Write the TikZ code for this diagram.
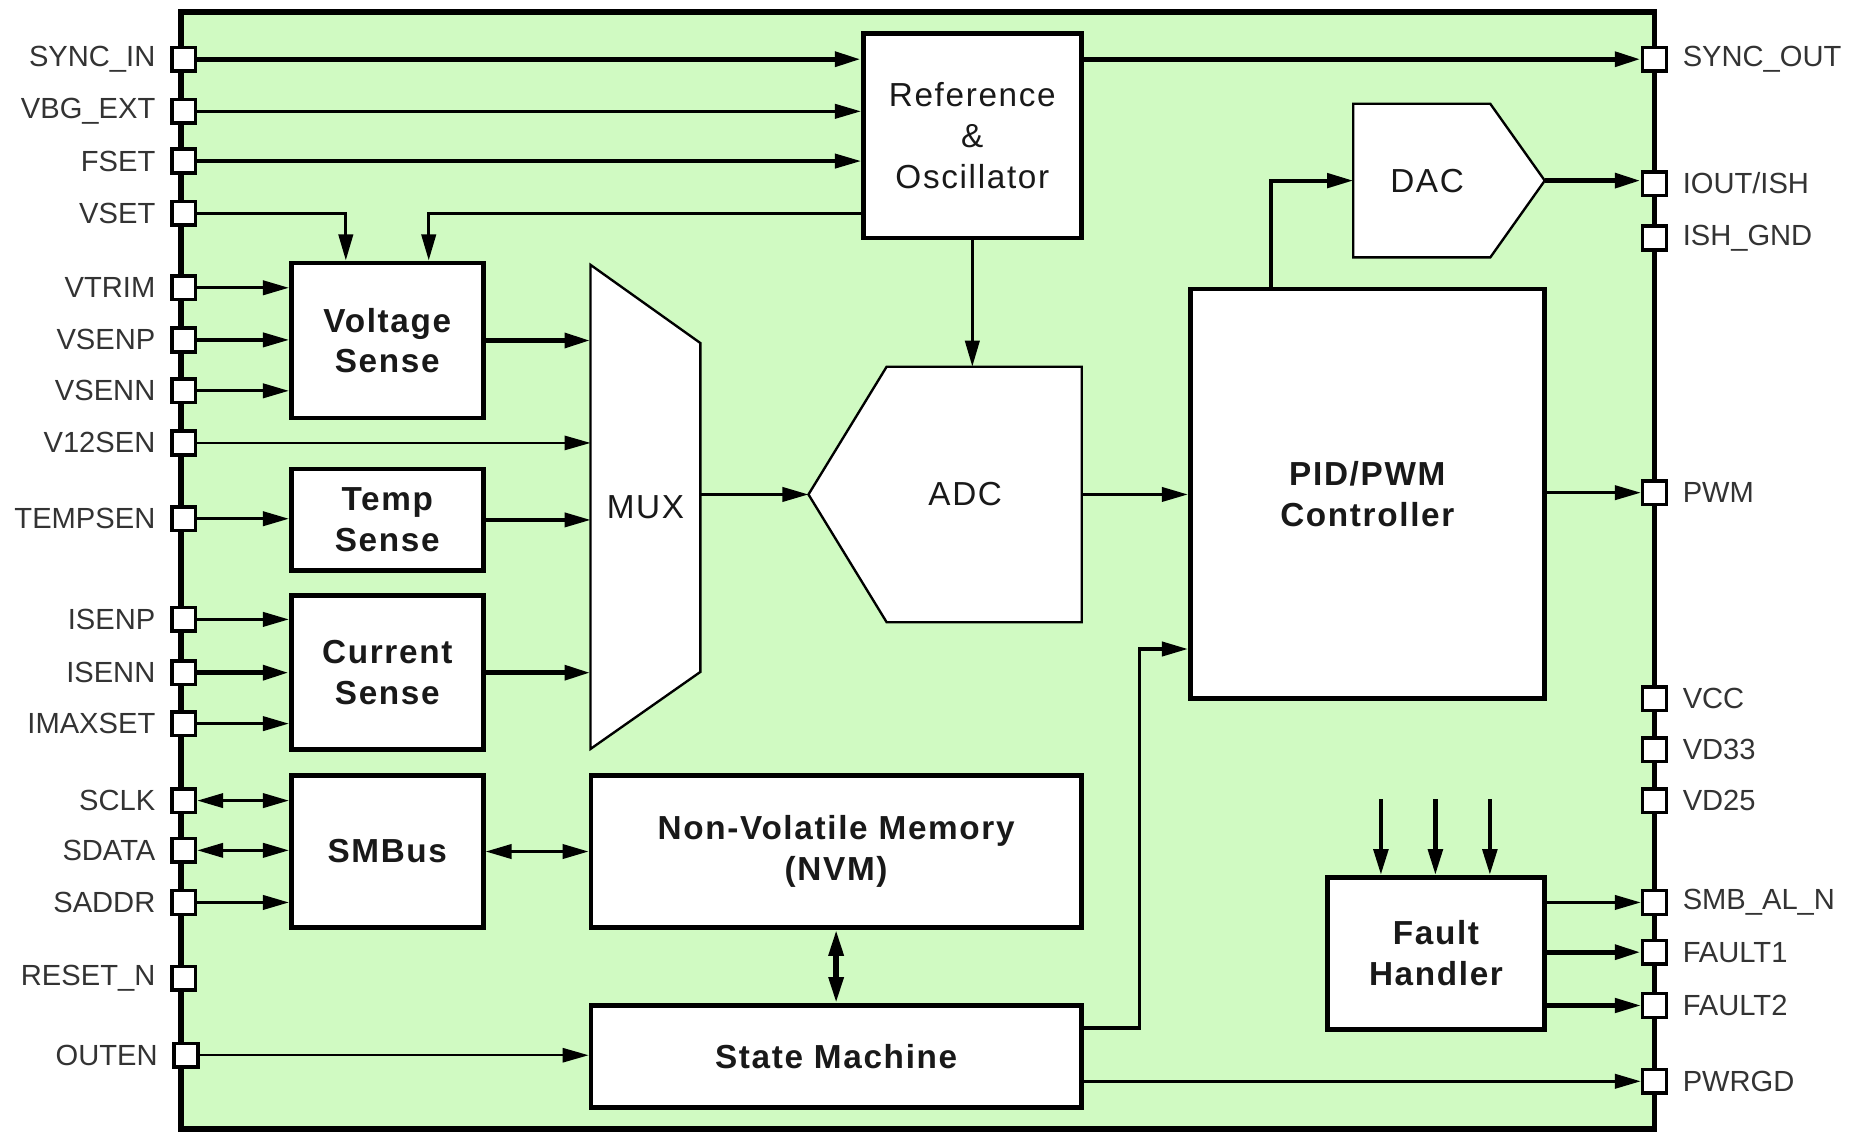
\documentclass[tikz,border=0pt]{standalone}
\usepackage{fontspec}
\setmainfont{Liberation Sans}
\newfontfamily\blockfont{Liberation Sans}[LetterSpace=5]
\usetikzlibrary{arrows.meta,positioning,calc}
\pgfdeclarelayer{edgelayer}
\pgfsetlayers{edgelayer,main}
\definecolor{chipgreen}{RGB}{208,250,194}
\tikzset{>={Triangle[length=4.4mm,width=2.4mm]},label distance=1.8mm}
\tikzstyle{padbox}=[draw,fill=white,line width=0.6mm,minimum size=4mm,inner sep=0pt]
\tikzstyle{lbl}=[font=\fontsize{14}{16}\selectfont,text=black!80,inner sep=0.6mm]
\tikzstyle{blk}=[draw,fill=white,line width=0.8mm,inner sep=0pt,align=center,text=black!90,font=\blockfont\bfseries\fontsize{16}{19.5}\selectfont]
\tikzstyle{plainblk}=[inner sep=0pt,align=center,text=black!90,font=\blockfont\fontsize{16}{19.5}\selectfont]
\tikzstyle{outline}=[draw,fill=white,line width=0.4mm]
\tikzstyle{wire}=[line width=0.55mm]
\tikzstyle{lightwire}=[line width=0.4mm]
\tikzstyle{heavywire}=[line width=0.9mm]

\begin{document}
\begin{tikzpicture}[x=0.2mm,y=-0.2mm,every edge/.append style={wire}]
\useasboundingbox (0,0) rectangle (1568,958);
\begin{pgfonlayer}{edgelayer}
\draw[line width=1mm,fill=chipgreen] (153,10) rectangle (1397,953);
\end{pgfonlayer}

% left side pins
\node[padbox,label={[lbl]left:SYNC\_IN}] (syncin) at (155,50) {};
\node[padbox,label={[lbl]left:VBG\_EXT}] (vbgext) at (155,94) {};
\node[padbox,label={[lbl]left:FSET}] (fset) at (155,136) {};
\node[padbox,label={[lbl]left:VSET}] (vset) at (155,180) {};
\node[padbox,label={[lbl]left:VTRIM}] (vtrim) at (155,243) {};
\node[padbox,label={[lbl]left:VSENP}] (vsenp) at (155,287) {};
\node[padbox,label={[lbl]left:VSENN}] (vsenn) at (155,330) {};
\node[padbox,label={[lbl]left:V12SEN}] (vtwelve) at (155,374) {};
\node[padbox,label={[lbl]left:TEMPSEN}] (tempsen) at (155,438) {};
\node[padbox,label={[lbl]left:ISENP}] (isenp) at (155,523) {};
\node[padbox,label={[lbl]left:ISENN}] (isenn) at (155,568) {};
\node[padbox,label={[lbl]left:IMAXSET}] (imaxset) at (155,611) {};
\node[padbox,label={[lbl]left:SCLK}] (sclk) at (155,676) {};
\node[padbox,label={[lbl]left:SDATA}] (sdata) at (155,718) {};
\node[padbox,label={[lbl]left:SADDR}] (saddr) at (155,762) {};
\node[padbox,label={[lbl]left:RESET\_N}] (resetn) at (155,826) {};
\node[padbox,label={[lbl]left:OUTEN}] (outen) at (157,891) {};

% right side pins
\node[padbox,label={[lbl]right:SYNC\_OUT}] (syncout) at (1397,50) {};
\node[padbox,label={[lbl]right:IOUT/ISH}] (ioutish) at (1397,155) {};
\node[padbox,label={[lbl]right:ISH\_GND}] (ishgnd) at (1397,201) {};
\node[padbox,label={[lbl]right:PWM}] (pwm) at (1397,416) {};
\node[padbox,label={[lbl]right:VCC}] (vcc) at (1397,590) {};
\node[padbox,label={[lbl]right:VD33}] (vdtt) at (1397,633) {};
\node[padbox,label={[lbl]right:VD25}] (vdtf) at (1397,676) {};
\node[padbox,label={[lbl]right:SMB\_AL\_N}] (smbal) at (1397,762) {};
\node[padbox,label={[lbl]right:FAULT1}] (faultone) at (1397,804) {};
\node[padbox,label={[lbl]right:FAULT2}] (faulttwo) at (1397,849) {};
\node[padbox,label={[lbl]right:PWRGD}] (pwrgd) at (1397,913) {};

% blocks
\node[blk,font=\blockfont\fontsize{16}{19.5}\selectfont,minimum width=36.8mm,minimum height=34.6mm] (ref) at (821,114.5) {Reference\\\&\\Oscillator};
\node[blk,minimum width=32.4mm,minimum height=26.2mm] (vsense) at (327,287.5) {Voltage\\Sense};
\node[blk,minimum width=32.4mm,minimum height=17.2mm] (tsense) at (327,439) {Temp\\Sense};
\node[blk,minimum width=32.4mm,minimum height=26mm] (isense) at (327,568) {Current\\Sense};
\node[blk,minimum width=32.4mm,minimum height=25.6mm] (smbus) at (327,719) {SMBus};
\node[blk,minimum width=82.8mm,minimum height=25.6mm] (nvm) at (706,719) {Non-Volatile Memory\\(NVM)};
\node[blk,minimum width=82.8mm,minimum height=17.2mm] (sm) at (706,892) {State Machine};
\node[blk,minimum width=59.8mm,minimum height=69.2mm] (pid) at (1154.5,417) {PID/PWM\\Controller};
\node[blk,minimum width=36.6mm,minimum height=25.6mm] (fault) at (1212.5,805) {Fault\\Handler};
\node[plainblk,minimum width=18.4mm,minimum height=81.6mm] (mux) at (545,428) {MUX};
\node[plainblk,minimum width=46mm,minimum height=43mm] (adc) at (798,417.5) {\hspace*{6.8mm}ADC};
\node[plainblk,minimum width=32.2mm,minimum height=25.8mm] (dac) at (1223.5,152.5) {DAC\hspace*{7.4mm}};

\begin{pgfonlayer}{edgelayer}
\path[outline] (mux.north west) -- ($(mux.north east)+(0,66)$) -- ($(mux.south east)+(0,-65)$) -- (mux.south west) -- cycle;
\path[outline] (adc.west) -- ($(adc.north west)+(66,0)$) -- (adc.north east) -- (adc.south east) -- ($(adc.south west)+(66,0)$) -- cycle;
\path[outline] (dac.north west) -- ($(dac.north east)+(-46,0)$) -- (dac.east) -- ($(dac.south east)+(-46,0)$) -- (dac.south west) -- cycle;
\end{pgfonlayer}

\coordinate (fina) at (1166,675);
\coordinate (finb) at (1212,675);
\coordinate (finc) at (1258,675);
\coordinate (pidin) at ($(pid.south west)+(0,-44)$);

% connectors
\path[->]
(syncin) edge[heavywire] (syncin -| ref.west)
(vbgext) edge (vbgext -| ref.west)
(fset) edge (fset -| ref.west)
(ref.east |- syncout) edge[heavywire] (syncout)
(ref.south) edge (ref.south |- adc.north)
(vtrim) edge (vtrim -| vsense.west)
(vsenp) edge (vsenp -| vsense.west)
(vsenn) edge (vsenn -| vsense.west)
(vsense.east) edge[heavywire] (vsense.east -| mux.west)
(vtwelve) edge[lightwire] (vtwelve -| mux.west)
(tempsen) edge (tempsen -| tsense.west)
(tsense.east) edge (tsense.east -| mux.west)
(isenp) edge (isenp -| isense.west)
(isenn) edge[heavywire] (isenn -| isense.west)
(imaxset) edge (imaxset -| isense.west)
(isense.east) edge[heavywire] (isense.east -| mux.west)
(adc.west -| mux.east) edge (adc.west)
(adc.east) edge (adc.east -| pid.west)
(pid.east |- pwm) edge (pwm)
(dac.east) edge[heavywire] (dac.east -| ioutish.west)
(saddr) edge (saddr -| smbus.west)
(outen) edge[lightwire] (outen -| sm.west)
(sm.east |- pwrgd) edge (pwrgd)
(fault.east |- smbal) edge (smbal)
(fault.east |- faultone) edge[heavywire] (faultone)
(fault.east |- faulttwo) edge[line width=0.7mm] (faulttwo)
(fina) edge[line width=0.8mm] (fina |- fault.north)
(finb) edge[line width=0.8mm] (finb |- fault.north)
(finc) edge[line width=0.8mm] (finc |- fault.north);
\path[<->]
(sclk) edge (sclk -| smbus.west)
(sdata) edge (sdata -| smbus.west)
(smbus) edge (nvm)
(nvm.south) edge[heavywire] (nvm.south |- sm.north);
\draw[->,wire] (vset) -| ($(vsense.north)+(-35,0)$);
\draw[->,wire] (ref.west |- vset) -| ($(vsense.north)+(35,0)$);
\draw[->,line width=0.7mm] ($(pid.north west)+(70,0)$) |- (dac.west);
\draw[->,line width=0.6mm] ($(sm.north east)+(0,21)$) -- ++(47,0) |- (pidin);
\end{tikzpicture}
\end{document}
